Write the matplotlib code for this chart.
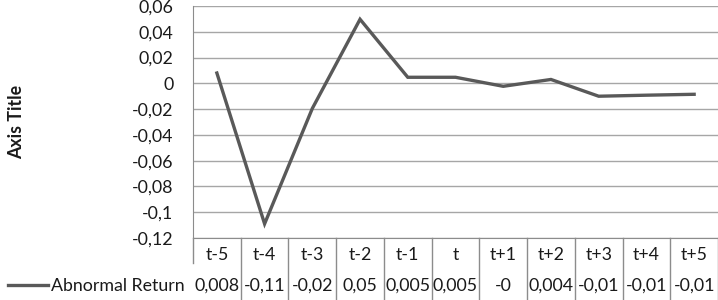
import matplotlib
matplotlib.use("Agg")
import matplotlib.pyplot as plt
import matplotlib.transforms as mtransforms
from matplotlib.lines import Line2D

# Data
periods = ["t-5", "t-4", "t-3", "t-2", "t-1", "t", "t+1", "t+2", "t+3", "t+4", "t+5"]
abnormal_return = [0.008, -0.109, -0.0195, 0.0497, 0.0047, 0.0047, -0.0023, 0.003, -0.010, -0.0092, -0.0085]
table_labels = ["0,008", "-0,11", "-0,02", "0,05", "0,005", "0,005", "-0", "0,004", "-0,01", "-0,01", "-0,01"]
y_ticks = [-0.12, -0.10, -0.08, -0.06, -0.04, -0.02, 0, 0.02, 0.04, 0.06]
y_tick_labels = ["-0,12", "-0,1", "-0,08", "-0,06", "-0,04", "-0,02", "0", "0,02", "0,04", "0,06"]

W, H = 718, 300
line_color = "#595959"
grid_color = "#a6a6a6"
border_color = "#8c8c8c"
text_color = "#1a1a1a"
fs = 12.8
plt.rcParams["font.family"] = ["Lato", "DejaVu Sans"]

fig = plt.figure(figsize=(W / 100, H / 100), dpi=100)
left_px, right_px, top_px, bottom_px = 193, 718, 6, 238
ax = fig.add_axes([left_px / W, 1 - bottom_px / H,
                   (right_px - left_px) / W, (bottom_px - top_px) / H])

x = list(range(len(periods)))
ax.plot(x, abnormal_return, color=line_color, lw=2.4, solid_joinstyle="miter")

ax.set_xlim(-0.5, len(periods) - 0.5)
ax.set_ylim(-0.12, 0.06)
ax.set_yticks(y_ticks)
ax.set_yticklabels(y_tick_labels, fontsize=fs, color=text_color)
ax.tick_params(axis="y", length=0, pad=14)
ax.set_xticks([])
ax.grid(axis="y", color=grid_color, lw=1)
ax.set_axisbelow(True)
for s in ["top", "right"]:
    ax.spines[s].set_visible(False)
ax.spines["left"].set_color(border_color)
ax.spines["bottom"].set_color(border_color)

fig.text(17 / W, 1 - 122 / H, "Axis Title", rotation=90, ha="center", va="center",
         fontsize=fs, fontweight="bold", color=text_color)

# Data table under the plot
trans = mtransforms.blended_transform_factory(ax.transData, ax.transAxes)
ax_h = bottom_px - top_px
row1_y = (bottom_px - 255) / ax_h
row2_y = (bottom_px - 286) / ax_h
table_bottom = (bottom_px - 300) / ax_h
for i, (p, lab) in enumerate(zip(periods, table_labels)):
    ax.text(i, row1_y, p, transform=trans, ha="center", va="center",
            fontsize=fs, color=text_color)
    ax.text(i, row2_y, lab, transform=trans, ha="center", va="center",
            fontsize=fs, color=text_color)
for k in range(1, len(periods) + 1):
    ax.plot([k - 0.5, k - 0.5], [0, table_bottom], transform=trans,
            color=border_color, lw=1, clip_on=False)
ax.plot([-0.5, -0.5], [0, (bottom_px - 263) / ax_h], transform=trans,
        color=border_color, lw=1, clip_on=False)

# Legend key and series name in the table row header
fig.add_artist(Line2D([8 / W, 48 / W], [1 - 285 / H, 1 - 285 / H],
                      color=line_color, lw=2.4))
fig.text(51 / W, 1 - 286 / H, "Abnormal Return", ha="left", va="center",
         fontsize=fs, color=text_color)

fig.savefig("out.png", dpi=100)
